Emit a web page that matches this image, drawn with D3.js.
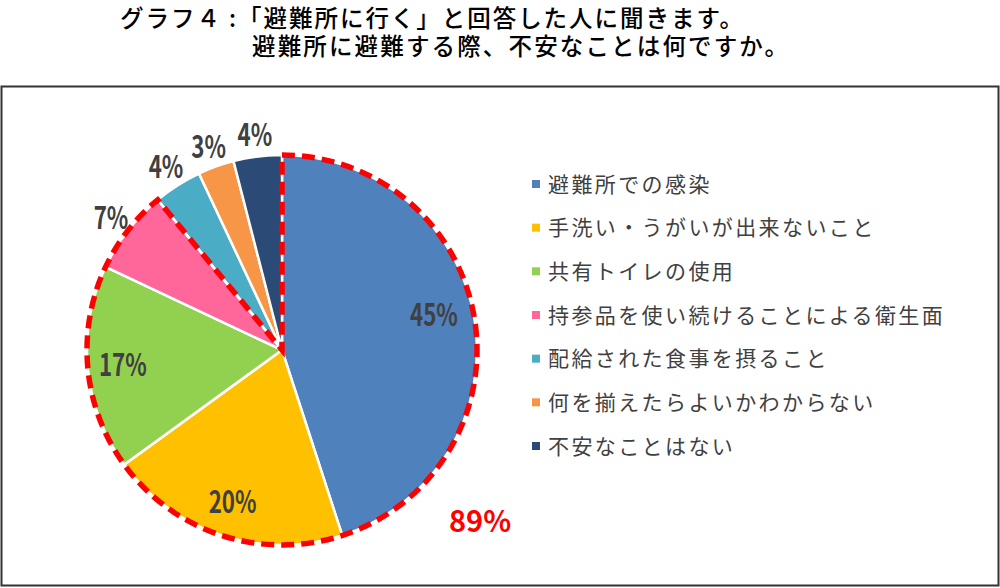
<!DOCTYPE html>
<html lang="ja">
<head>
<meta charset="utf-8" />
<title>グラフ４</title>
<script src="https://cdn.jsdelivr.net/npm/d3@7"></script>
<style>
body { margin: 0; background: #fff; }
text { font-family: "Noto Sans CJK JP", sans-serif; }
</style>
</head>
<body>
<script>
// data
var categories = [
  "避難所での感染",
  "手洗い・うがいが出来ないこと",
  "共有トイレの使用",
  "持参品を使い続けることによる衛生面",
  "配給された食事を摂ること",
  "何を揃えたらよいかわからない",
  "不安なことはない"
];
var values = [45, 20, 17, 7, 4, 3, 4];
var colors = ["#4F81BD", "#FFC000", "#92D050", "#FF6699", "#4BACC6", "#F79646", "#2B4A75"];
var titleLines = ["グラフ４ :「避難所に行く」と回答した人に聞きます。", "避難所に避難する際、不安なことは何ですか。"];
var highlightCount = 4;   // first four slices inside the red outline
var highlightLabel = "89%";

var w = 1000, h = 588;
var cx = 282, cy = 350, r = 195;

var svg = d3.select("body").append("svg")
    .attr("width", w)
    .attr("height", h);

// title (two lines, not centred)
var titleX = [120, 252], titleY = [27, 55], titleW = [623, 536];
svg.selectAll("text.title")
    .data(titleLines)
  .enter().append("text")
    .attr("class", "title")
    .attr("x", function(d, i) { return titleX[i]; })
    .attr("y", function(d, i) { return titleY[i]; })
    .attr("textLength", function(d, i) { return titleW[i]; })
    .attr("lengthAdjust", "spacing")
    .attr("font-size", 23.5)
    .attr("font-weight", 500)
    .attr("fill", "#000")
    .text(function(d) { return d; });

// frame
svg.append("rect")
    .attr("x", 1.5).attr("y", 86.5)
    .attr("width", 997).attr("height", 499)
    .attr("fill", "none")
    .attr("stroke", "#333")
    .attr("stroke-width", 2);

var pie = d3.pie().sort(null).value(function(d) { return d; });
var arcs = pie(values);
var arc = d3.arc().innerRadius(0).outerRadius(r);
var inArc = d3.arc().innerRadius(r * 0.82).outerRadius(r * 0.82);
var outArc = d3.arc().innerRadius(r * 1.11).outerRadius(r * 1.11);

var g = svg.append("g").attr("transform", "translate(" + cx + "," + cy + ")");

g.selectAll("path.slice")
    .data(arcs)
  .enter().append("path")
    .attr("class", "slice")
    .attr("d", arc)
    .attr("fill", function(d, i) { return colors[i]; })
    .attr("stroke", "#fff")
    .attr("stroke-width", 2.5);

// red dashed outline around the highlighted group
var total = d3.sum(values);
var hiEnd = d3.sum(values.slice(0, highlightCount)) / total * 2 * Math.PI;
g.append("path")
    .attr("d", arc({ startAngle: 0, endAngle: hiEnd }))
    .attr("fill", "none")
    .attr("stroke", "#FF0000")
    .attr("stroke-width", 5.5)
    .attr("stroke-dasharray", "13,7")
    .attr("stroke-linejoin", "miter");

// percentage labels: big slices inside, small slices outside (condensed look)
g.selectAll("text.pct")
    .data(arcs)
  .enter().append("text")
    .attr("class", "pct")
    .attr("transform", function(d) {
      var p = d.data >= 10 ? inArc.centroid(d) : outArc.centroid(d);
      if (d.data >= 40) p = [p[0] - 6, p[1] - 10];
      return "translate(" + p[0] + "," + p[1] + ") scale(0.72,1)";
    })
    .attr("text-anchor", "middle")
    .attr("dy", "0.36em")
    .attr("font-family", "'Liberation Sans', Arial, sans-serif")
    .attr("font-weight", "bold")
    .attr("font-size", 31)
    .attr("fill", "#404040")
    .text(function(d) { return d.data + "%"; });

svg.append("text")
    .attr("x", 480).attr("y", 532)
    .attr("text-anchor", "middle")
    .attr("font-family", "'Liberation Sans', Arial, sans-serif")
    .attr("font-weight", "bold")
    .attr("font-size", 29)
    .attr("fill", "#FF0000")
    .text(highlightLabel);

// legend
var legendY = d3.scalePoint()
    .domain(categories)
    .range([184, 446]);

var legend = svg.selectAll("g.legend")
    .data(categories)
  .enter().append("g")
    .attr("class", "legend")
    .attr("transform", function(d) { return "translate(532," + legendY(d) + ")"; });

legend.append("rect")
    .attr("x", 0).attr("y", -4)
    .attr("width", 8).attr("height", 8)
    .attr("fill", function(d, i) { return colors[i]; });

legend.append("text")
    .attr("x", 16)
    .attr("dy", "0.36em")
    .attr("font-size", 21)
    .attr("letter-spacing", "2.4px")
    .attr("fill", "#404040")
    .text(function(d) { return d; });
</script>
</body>
</html>
